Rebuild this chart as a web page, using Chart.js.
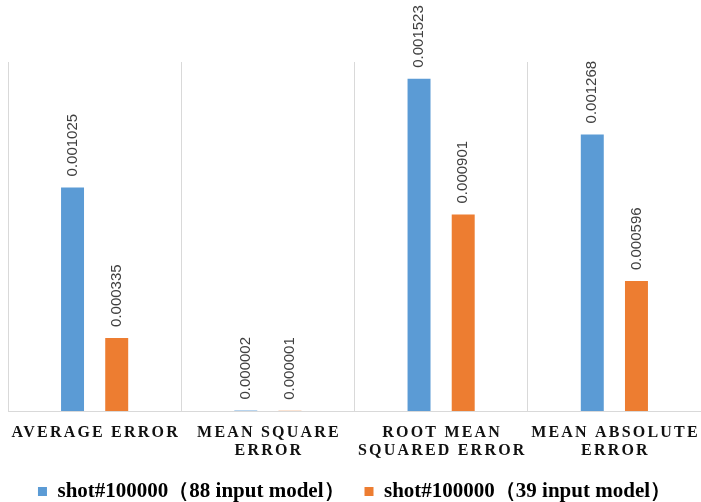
<!DOCTYPE html>
<html>
<head>
<meta charset="utf-8">
<script src="https://cdn.jsdelivr.net/npm/chart.js@4.4.1/dist/chart.umd.min.js"></script>
<style>
  html, body { margin: 0; padding: 0; background: #ffffff; }
  #wrap { width: 701px; height: 502px; position: relative; }
</style>
</head>
<body>
<div id="wrap"><canvas id="chart"></canvas></div>
<script>
// Error metrics for the two input models of shot#100000
const categories = [
  ['AVERAGE ERROR'],
  ['MEAN SQUARE', 'ERROR'],
  ['ROOT MEAN', 'SQUARED ERROR'],
  ['MEAN ABSOLUTE', 'ERROR']
];
const seriesNames = [
  'shot#100000（88 input model）',
  'shot#100000（39 input model）'
];
const model88 = [0.001025, 0.000002, 0.001523, 0.001268];
const model39 = [0.000335, 0.000001, 0.000901, 0.000596];
const yMax = 0.0016;

// Rotated value labels above each bar
const valueLabels = {
  id: 'valueLabels',
  afterDatasetsDraw(chart) {
    const ctx = chart.ctx;
    ctx.save();
    ctx.font = '15px "Liberation Sans", Arial, sans-serif';
    ctx.fillStyle = '#404040';
    ctx.textAlign = 'left';
    ctx.textBaseline = 'middle';
    chart.data.datasets.forEach((ds, di) => {
      const meta = chart.getDatasetMeta(di);
      meta.data.forEach((bar, i) => {
        ctx.save();
        ctx.translate(bar.x, bar.y - 11);
        ctx.rotate(-Math.PI / 2);
        ctx.fillText(ds.data[i].toFixed(6), 0, 0);
        ctx.restore();
      });
    });
    ctx.restore();
  }
};

// Letter-spaced category labels under the axis
const spacedCategoryLabels = {
  id: 'spacedCategoryLabels',
  afterDraw(chart) {
    const ctx = chart.ctx;
    const xs = chart.scales.x;
    const bottom = chart.chartArea.bottom;
    const spacing = 2.2;
    ctx.save();
    ctx.font = 'bold 16px "Liberation Serif", "Times New Roman", serif';
    ctx.fillStyle = '#111111';
    ctx.textAlign = 'center';
    ctx.textBaseline = 'alphabetic';
    if ('letterSpacing' in ctx) ctx.letterSpacing = spacing + 'px';
    categories.forEach((lines, i) => {
      const x = xs.getPixelForTick(i) + spacing / 2;
      lines.forEach((line, j) => {
        ctx.fillText(line, x, bottom + 26 + j * 18);
      });
    });
    ctx.restore();
  }
};

new Chart(document.getElementById('chart'), {
  type: 'bar',
  data: {
    labels: categories,
    datasets: [
      { label: seriesNames[0], data: model88, backgroundColor: '#5b9bd5' },
      { label: seriesNames[1], data: model39, backgroundColor: '#ed7d31' }
    ]
  },
  options: {
    responsive: true,
    maintainAspectRatio: false,
    animation: false,
    devicePixelRatio: 1,
    barPercentage: 0.52,
    categoryPercentage: 0.51,
    layout: { padding: { top: 62, left: 8, right: 0, bottom: -10 } },
    scales: {
      x: {
        grid: {
          offset: true,
          drawTicks: false,
          color: (c) => (c.index === categories.length ? 'rgba(0,0,0,0)' : '#d9d9d9'),
          lineWidth: 1
        },
        border: { display: true, color: '#d9d9d9', width: 1 },
        ticks: {
          color: 'rgba(0,0,0,0)',
          font: { family: '"Liberation Serif", serif', size: 16, weight: 'bold', lineHeight: 1.0 },
          padding: 9,
          maxRotation: 0,
          minRotation: 0,
          autoSkip: false
        }
      },
      y: {
        display: false,
        min: 0,
        max: yMax
      }
    },
    plugins: {
      legend: {
        position: 'bottom',
        labels: {
          boxWidth: 9,
          boxHeight: 9,
          padding: 20,
          color: '#000000',
          font: { family: '"Liberation Serif", "Times New Roman", serif', size: 21, weight: 'bold' }
        }
      },
      tooltip: { enabled: false }
    }
  },
  plugins: [valueLabels, spacedCategoryLabels]
});
</script>
</body>
</html>
